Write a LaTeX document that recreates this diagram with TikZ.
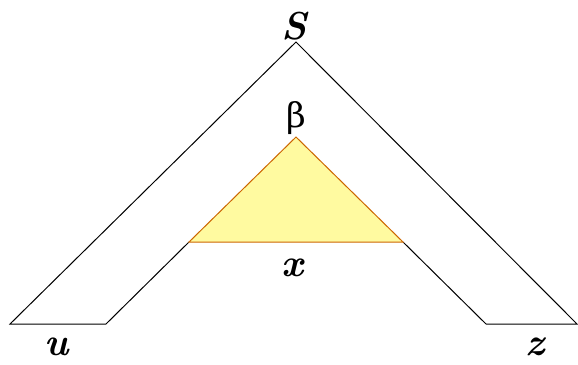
\documentclass[tikz,border=0pt]{standalone}
\usepackage{fontspec}
\newfontfamily\betafont{DejaVu Serif}
\begin{document}
\begin{tikzpicture}[x=1pt,y=-1pt,
  lbl/.style={font=\fontsize{39}{39}\selectfont\bfseries\itshape, inner sep=0pt},
  edge/.style={draw=black, line width=1pt, line join=miter},
  tri/.style={draw={rgb,255:red,204;green,102;blue,0}, fill={rgb,255:red,255;green,250;blue,160}, line width=1pt}]
\useasboundingbox (0,0) rectangle (578,364);
\coordinate (A) at (296,42);
\coordinate (L) at (10,324);
\coordinate (R) at (577,324);
\coordinate (Li) at (106,324);
\coordinate (Ri) at (486,324);
\coordinate (TL) at (189,242);
\coordinate (TR) at (403,242);
\coordinate (TA) at (296,137);
\draw[edge] (Li) -- (L) -- (A) -- (R) -- (Ri);
\draw[edge] (Li) -- (TL);
\draw[edge] (TR) -- (Ri);
\draw[tri] (TL) -- (TA) -- (TR) -- cycle;
\node[lbl] (S) at (294,26) {S};
\node[font=\fontsize{34}{34}\selectfont\betafont, inner sep=0pt] (beta) at (296,118) {β};
\node[lbl] (x) at (292,268) {x};
\node[lbl] (u) at (57,347) {u};
\node[lbl] (z) at (535,347) {z};
\end{tikzpicture}
\end{document}
